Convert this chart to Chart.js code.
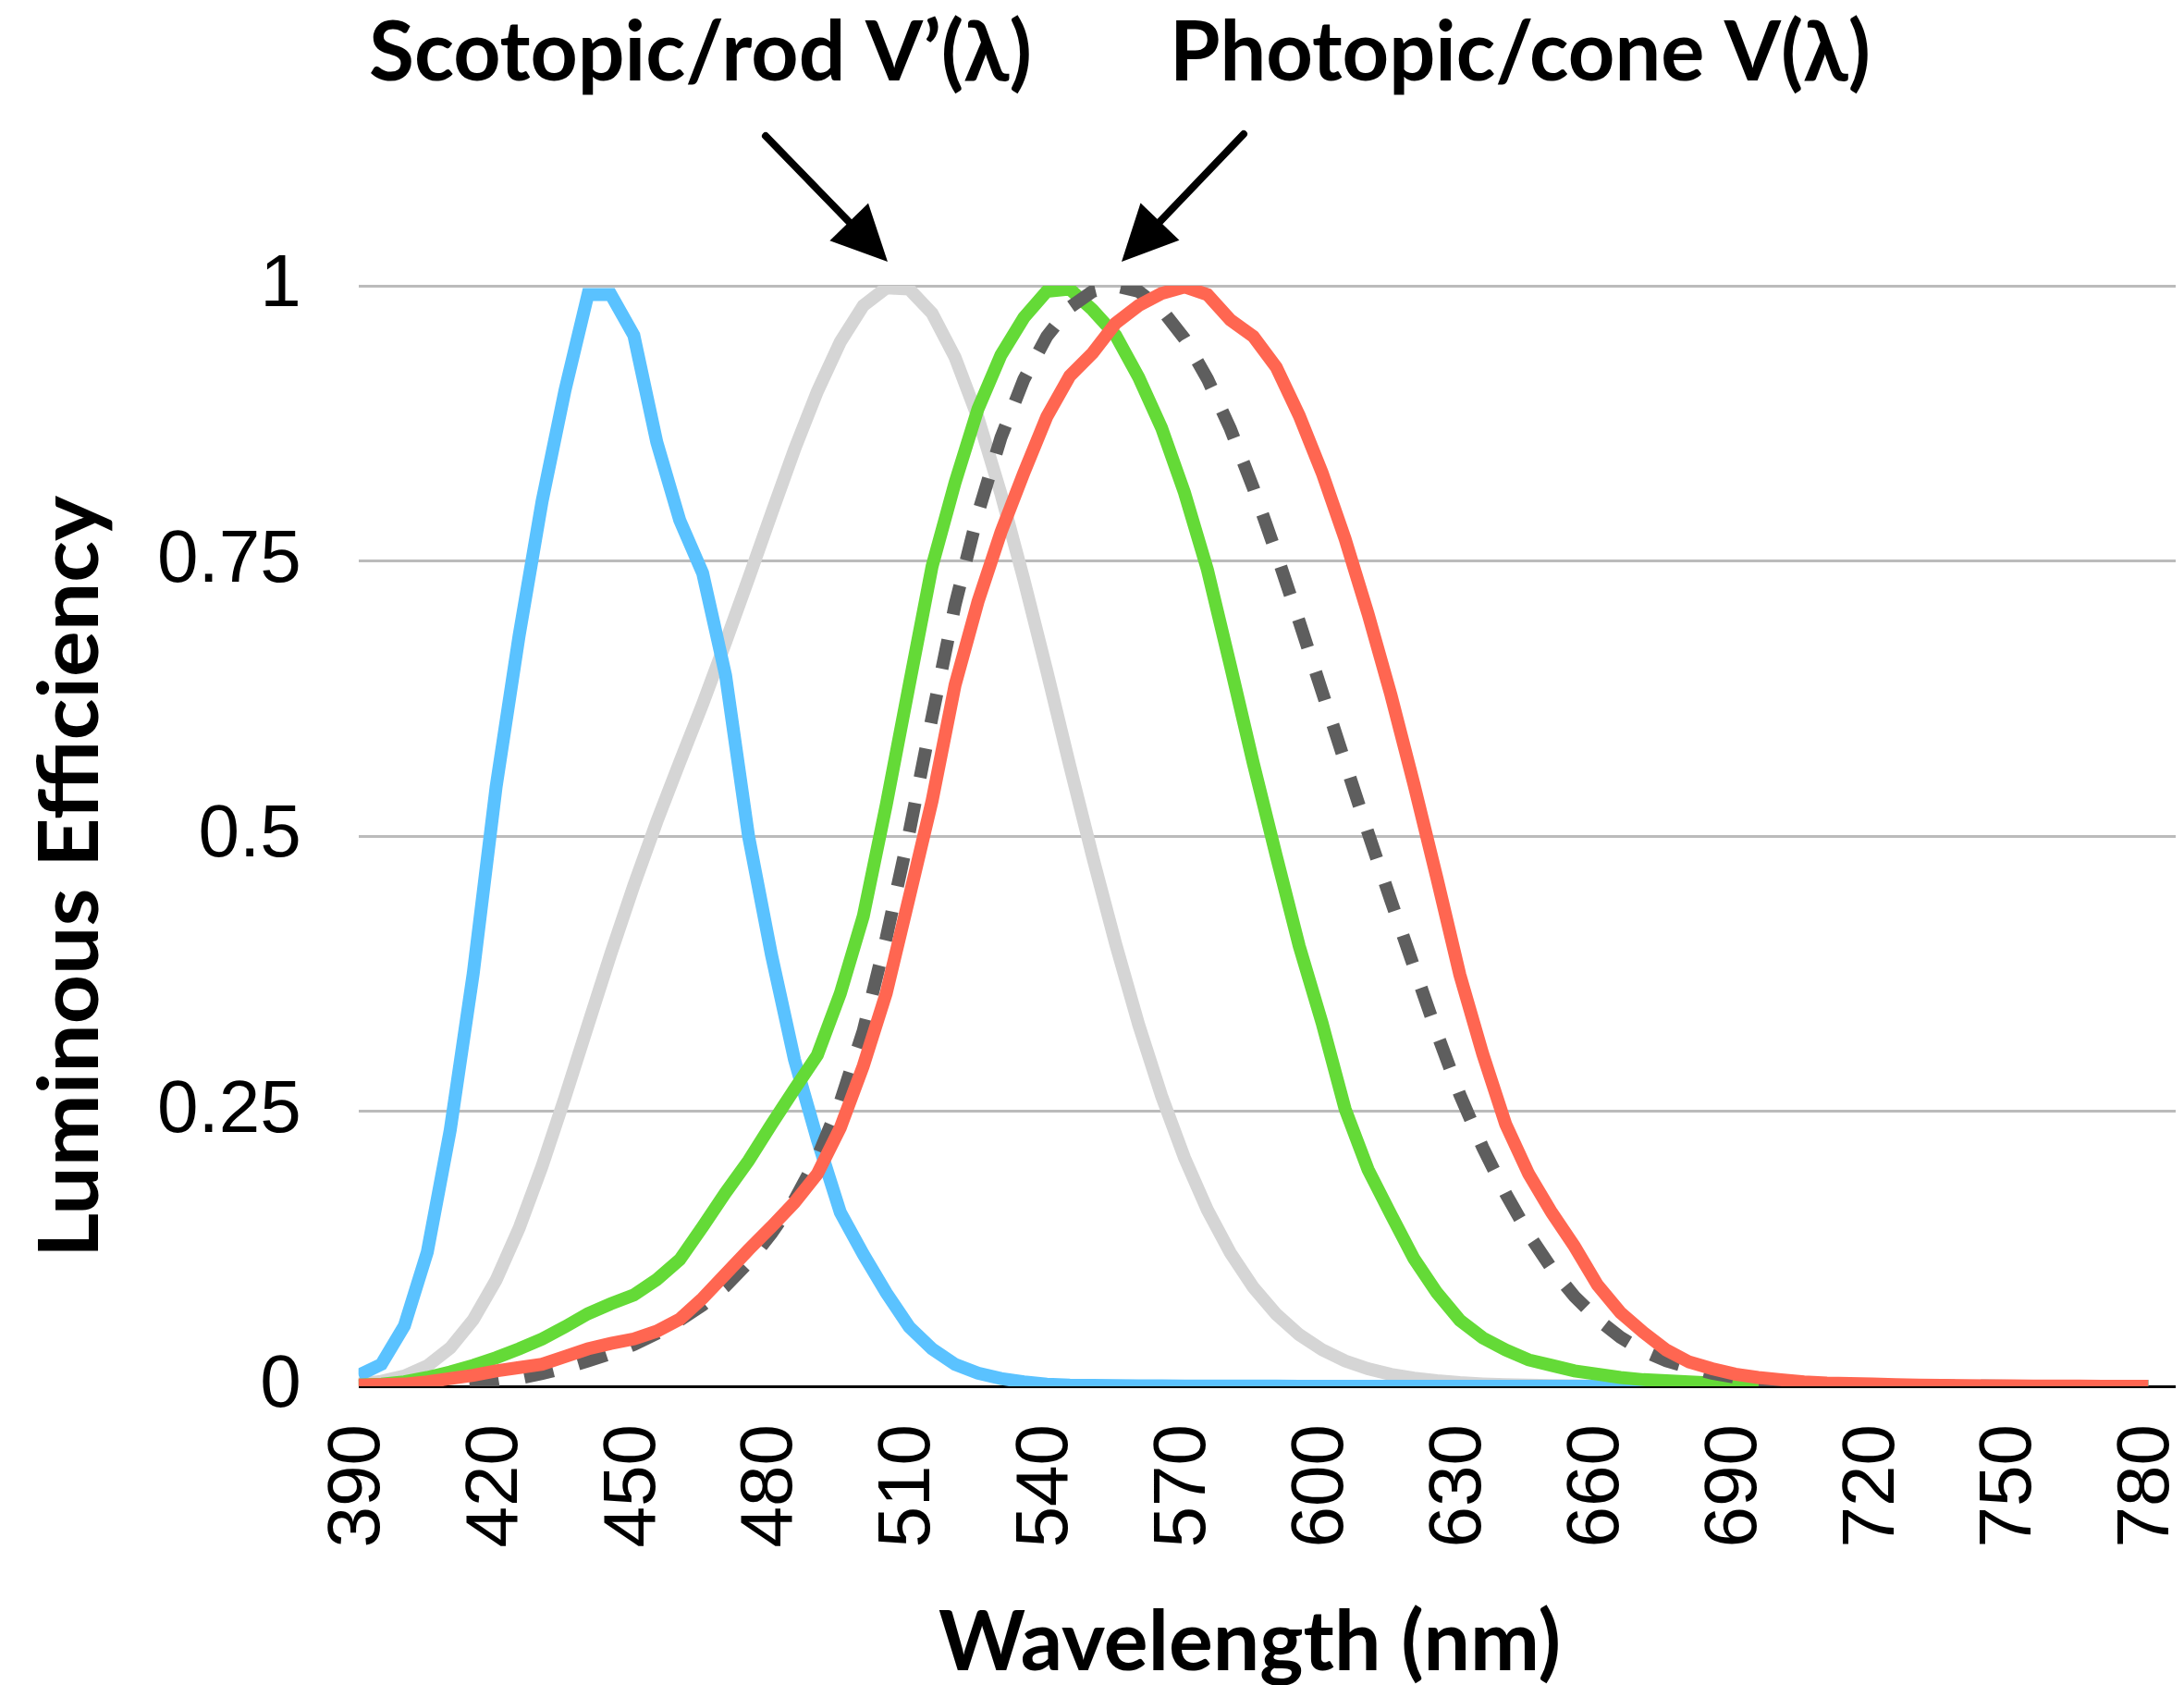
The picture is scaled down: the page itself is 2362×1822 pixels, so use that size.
<!DOCTYPE html>
<html>
<head>
<meta charset="utf-8">
<title>Luminous Efficiency</title>
<script src="https://cdn.jsdelivr.net/npm/chart.js@4.4.1/dist/chart.umd.min.js"></script>
<style>
  html, body { margin: 0; padding: 0; background: #fff; }
  canvas { display: block; }
</style>
</head>
<body>
<canvas id="lumChart" width="2362" height="1822"></canvas>
<script>
// ----- DATA -----
const wavelengths = [
  390, 395, 400, 405, 410, 415, 420, 425, 430, 435, 440, 445, 450, 455, 460, 465, 470, 475, 480, 485,
  490, 495, 500, 505, 510, 515, 520, 525, 530, 535, 540, 545, 550, 555, 560, 565, 570, 575, 580, 585,
  590, 595, 600, 605, 610, 615, 620, 625, 630, 635, 640, 645, 650, 655, 660, 665, 670, 675, 680, 685,
  690, 695, 700, 705, 710, 715, 720, 725, 730, 735, 740, 745, 750, 755, 760, 765, 770, 775, 780
];

// S cones (blue)
const sCone = [
  0.010, 0.020, 0.055, 0.122, 0.233, 0.375, 0.545, 0.682, 0.804, 0.905, 0.992, 0.992, 0.955, 0.858, 0.787, 0.739, 0.646, 0.500, 0.392, 0.297,
  0.224, 0.158, 0.120, 0.085, 0.054, 0.034, 0.020, 0.012, 0.007, 0.004, 0.002, 0.001, 0.0008, 0.0006, 0.0005, 0.0004, 0.0003, 0.0003, 0.0002, 0.0002,
  0.0002, 0.0001, 0.0001, 0.0001, 0.0001, 0, 0, 0, 0, 0, 0, 0, 0, 0, 0, 0, 0, 0, 0, 0,
  0, 0, 0, 0, 0, 0, 0, 0, 0, 0, 0, 0, 0, 0, 0, 0, 0, 0, 0
];

// scotopic V'(lambda) (light grey)
const scotopic = [
  0.0022, 0.0045, 0.0093, 0.0185, 0.0348, 0.0604, 0.0966, 0.1436, 0.1998, 0.2625, 0.3281, 0.3931, 0.455, 0.513, 0.567, 0.620, 0.676, 0.734, 0.793, 0.851,
  0.904, 0.949, 0.982, 0.998, 0.997, 0.975, 0.935, 0.880, 0.811, 0.733, 0.650, 0.564, 0.481, 0.402, 0.3288, 0.2639, 0.2076, 0.1602, 0.1212, 0.0899,
  0.0655, 0.0469, 0.0332, 0.0231, 0.0159, 0.0109, 0.0074, 0.0050, 0.0033, 0.0022, 0.0015, 0.0010, 0.0007, 0.0005, 0.0003, 0.0002, 0.0001, 0.0001, 0, 0,
  0, 0, 0, 0, 0, 0, 0, 0, 0, 0, 0, 0, 0, 0, 0, 0, 0, 0, 0
];

// M cones (green)
const mCone = [
  0.001, 0.002, 0.004, 0.008, 0.013, 0.019, 0.026, 0.034, 0.043, 0.054, 0.066, 0.075, 0.083, 0.097, 0.115, 0.145, 0.176, 0.205, 0.238, 0.270,
  0.301, 0.357, 0.427, 0.528, 0.637, 0.745, 0.821, 0.888, 0.937, 0.971, 0.995, 0.997, 0.978, 0.955, 0.917, 0.871, 0.812, 0.742, 0.655, 0.566,
  0.482, 0.400, 0.330, 0.252, 0.197, 0.156, 0.116, 0.085, 0.060, 0.044, 0.033, 0.024, 0.019, 0.014, 0.011, 0.008, 0.006, 0.005, 0.004, 0.003,
  0.002, 0.0015, 0.001, 0.0008, 0.0006, 0.0004, 0.0003, 0.0002, 0.0002, 0.0001, 0.0001, 0.0001, 0, 0, 0, 0, 0, 0, 0
];

// photopic V(lambda) (dashed dark grey)
const photopic = [
  0.0001, 0.0002, 0.0004, 0.0006, 0.0012, 0.0022, 0.0040, 0.0073, 0.0116, 0.0168, 0.0230, 0.0298, 0.0380, 0.0480, 0.0600, 0.0739, 0.0910, 0.1126, 0.1390, 0.1693,
  0.2080, 0.2586, 0.3230, 0.4073, 0.5030, 0.6082, 0.7100, 0.7932, 0.8620, 0.9149, 0.9540, 0.9803, 0.9950, 1.0000, 0.9950, 0.9786, 0.9520, 0.9154, 0.8700, 0.8163,
  0.7570, 0.6949, 0.6310, 0.5668, 0.5030, 0.4412, 0.3810, 0.3210, 0.2650, 0.2170, 0.1750, 0.1382, 0.1070, 0.0816, 0.0610, 0.0446, 0.0320, 0.0232, 0.0170, 0.0119,
  0.0082, 0.0057, 0.0041, 0.0029, 0.0021, 0.0015, 0.0010, 0.0007, 0.0005, 0.0004, 0.0002, 0.0002, 0.0001, 0.0001, 0.0001, 0, 0, 0, 0
];

// L cones (red)
const lCone = [
  0.001, 0.0015, 0.002, 0.004, 0.007, 0.010, 0.014, 0.017, 0.020, 0.027, 0.034, 0.039, 0.043, 0.050, 0.061, 0.080, 0.102, 0.124, 0.145, 0.167,
  0.193, 0.235, 0.291, 0.357, 0.444, 0.532, 0.637, 0.713, 0.776, 0.830, 0.881, 0.918, 0.939, 0.966, 0.982, 0.993, 0.999, 0.992, 0.969, 0.954,
  0.926, 0.882, 0.830, 0.770, 0.702, 0.628, 0.547, 0.462, 0.374, 0.302, 0.238, 0.193, 0.158, 0.127, 0.092, 0.067, 0.049, 0.033, 0.022, 0.016,
  0.011, 0.008, 0.006, 0.004, 0.003, 0.0025, 0.002, 0.0015, 0.001, 0.0008, 0.0006, 0.0005, 0.0004, 0.0003, 0.0002, 0.0002, 0.0001, 0.0001, 0.0001
];

const xTickLabels = [390, 420, 450, 480, 510, 540, 570, 600, 630, 660, 690, 720, 750, 780];
const yTickLabels = ['0', '0.25', '0.5', '0.75', '1'];

const toPoints = values => wavelengths.map((w, i) => ({ x: w, y: values[i] }));

// ----- TITLES + ARROWS (drawn on top) -----
function fitText(ctx, text, x, y, width, angle) {
  const w = ctx.measureText(text).width;
  ctx.save();
  ctx.translate(x, y);
  if (angle) ctx.rotate(angle);
  ctx.scale(width / w, 1);
  ctx.fillText(text, 0, 0);
  ctx.restore();
}

function arrow(ctx, x0, y0, tipX, tipY, headLen, headW) {
  const dx = tipX - x0, dy = tipY - y0;
  const len = Math.hypot(dx, dy);
  const ux = dx / len, uy = dy / len;
  const bx = tipX - ux * headLen, by = tipY - uy * headLen;
  ctx.beginPath();
  ctx.moveTo(x0, y0);
  ctx.lineTo(bx + ux * 4, by + uy * 4);
  ctx.stroke();
  ctx.beginPath();
  ctx.moveTo(tipX, tipY);
  ctx.lineTo(bx - uy * headW / 2, by + ux * headW / 2);
  ctx.lineTo(bx + uy * headW / 2, by - ux * headW / 2);
  ctx.closePath();
  ctx.fill();
}

const labelPlugin = {
  id: 'labels',
  afterDraw(chart) {
    const ctx = chart.ctx;
    ctx.save();
    ctx.fillStyle = '#000';
    ctx.strokeStyle = '#000';
    ctx.textAlign = 'left';
    ctx.textBaseline = 'alphabetic';
    ctx.font = 'bold 90px Lato, "Open Sans", sans-serif';
    fitText(ctx, 'Scotopic/rod V’(λ)', 399, 87, 717);
    fitText(ctx, 'Photopic/cone V(λ)', 1265, 87, 758);
    fitText(ctx, 'Wavelength (nm)', 1015, 1806, 673);
    fitText(ctx, 'Luminous Efficiency', 106, 1360, 824, -Math.PI / 2);

    ctx.lineWidth = 8;
    ctx.lineCap = 'round';
    arrow(ctx, 828, 147, 960, 283, 60, 58);
    arrow(ctx, 1345, 145, 1213, 283, 60, 58);
    ctx.restore();
  }
};

// ----- CHART -----
const ctx = document.getElementById('lumChart').getContext('2d');
const lineStyle = { pointRadius: 0, borderWidth: 14, tension: 0, fill: false, borderJoinStyle: 'miter' };

new Chart(ctx, {
  type: 'line',
  data: {
    datasets: [
      { label: 'L cones', data: toPoints(lCone), borderColor: '#FF6651', order: 0, ...lineStyle },
      { label: 'V(λ)', data: toPoints(photopic), borderColor: '#5E5E5E', borderDash: [32, 28], order: 1, ...lineStyle },
      { label: 'M cones', data: toPoints(mCone), borderColor: '#64DA37', order: 2, ...lineStyle },
      { label: 'S cones', data: toPoints(sCone), borderColor: '#5AC2FF', order: 3, ...lineStyle },
      { label: "V'(λ)", data: toPoints(scotopic), borderColor: '#D5D5D5', order: 4, ...lineStyle }
    ]
  },
  options: {
    responsive: false,
    animation: false,
    layout: { padding: { left: 108, top: 309, right: 9, bottom: 141 } },
    plugins: {
      legend: { display: false },
      tooltip: { enabled: false }
    },
    scales: {
      x: {
        type: 'linear',
        min: 390,
        max: 786,
        grid: { display: false },
        border: { display: false },
        afterBuildTicks: scale => {
          scale.ticks = xTickLabels.map(v => ({ value: v }));
        },
        afterFit: scale => {
          // keep the plot edges where the reference has them
          scale.paddingLeft = 0;
          scale.paddingRight = 0;
          scale.height = 182;
        },
        ticks: {
          autoSkip: false,
          minRotation: 90,
          maxRotation: 90,
          padding: 33,
          color: '#000',
          font: { family: '"Liberation Sans", Arial, sans-serif', size: 80 },
          callback: value => String(value)
        }
      },
      y: {
        min: 0,
        max: 1,
        border: { display: false },
        grid: {
          drawTicks: false,
          lineWidth: 3,
          color: c => (c.tick && c.tick.value === 0 ? '#000000' : '#BBBBBB')
        },
        ticks: {
          stepSize: 0.25,
          padding: 62,
          color: '#000',
          font: { family: '"Liberation Sans", Arial, sans-serif', size: 80 },
          callback: (value, index) => yTickLabels[index]
        }
      }
    }
  },
  plugins: [labelPlugin]
});
</script>
</body>
</html>
